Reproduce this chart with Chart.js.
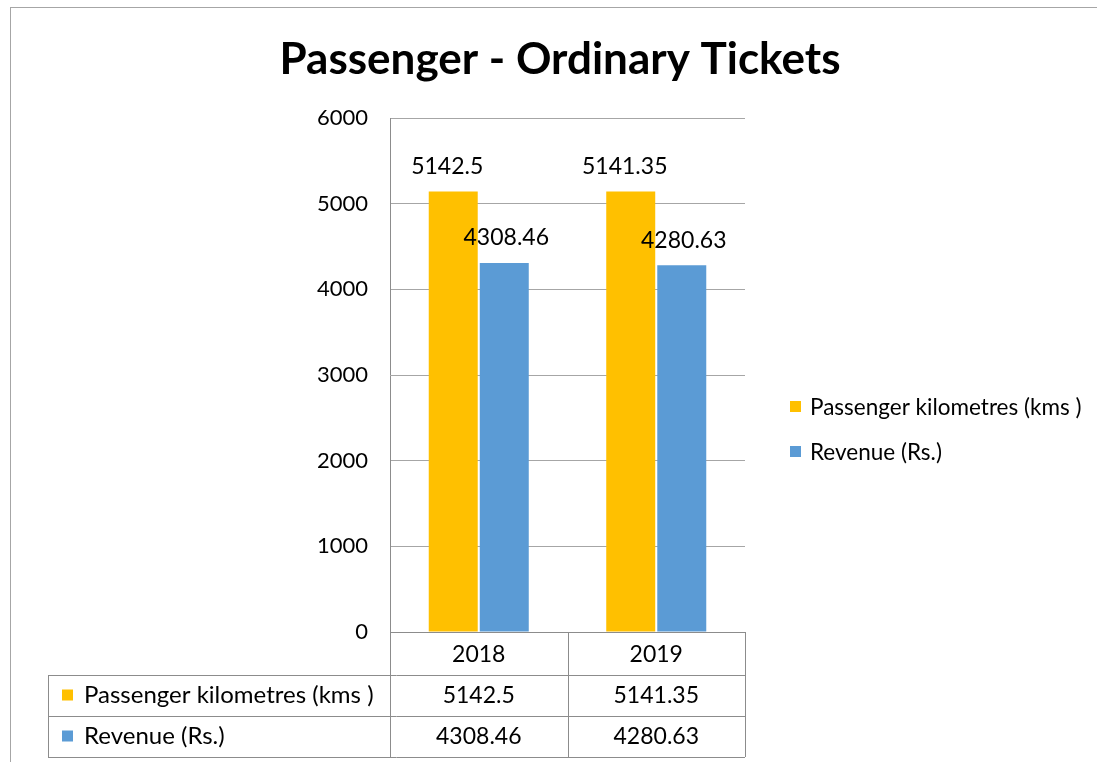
<!DOCTYPE html>
<html><head><meta charset="utf-8">
<script src="https://cdn.jsdelivr.net/npm/chart.js@4.4.1/dist/chart.umd.min.js"></script>
<style>html,body{margin:0;padding:0;background:#fff;}#wrap{width:1097px;height:762px;}</style>
</head><body><div id="wrap"><canvas id="c" width="1097" height="762"></canvas></div>
<script>
const chartTitle = "Passenger - Ordinary Tickets";
const categories = ["2018", "2019"];
const seriesNames = ["Passenger kilometres (kms )", "Revenue (Rs.)"];
const passengerKms = [5142.5, 5141.35];
const revenue = [4308.46, 4280.63];
const valueLabels = [["5142.5", "5141.35"], ["4308.46", "4280.63"]];
const yTicks = [0, 1000, 2000, 3000, 4000, 5000, 6000];
const colors = ["#FFC000", "#5B9BD5"];
const FONT = "Lato, 'Open Sans', sans-serif";

const tablePlugin = {
  id: 'extras',
  afterDraw(chart) {
    const ctx = chart.ctx;
    const xs = chart.scales.x;
    const area = chart.chartArea;
    ctx.save();
    // outer border
    ctx.strokeStyle = '#a6a6a6'; ctx.lineWidth = 1;
    ctx.strokeRect(10.5, 7.5, 1300, 1000);
    // title
    ctx.fillStyle = '#000';
    ctx.font = "bold 44px " + FONT;
    ctx.textAlign = 'center'; ctx.textBaseline = 'middle';
    ctx.fillText(chartTitle, 560, 60);
    // data labels
    ctx.font = "23px " + FONT;
    chart.data.datasets.forEach((ds, di) => {
      const meta = chart.getDatasetMeta(di);
      meta.data.forEach((bar, i) => {
        ctx.fillText(valueLabels[di][i], bar.x - (di === 0 ? 6 : -2), bar.y - 25);
      });
    });
    // data table
    const L = area.left, R = area.right, T = area.bottom;
    const step = xs.getPixelForValue(1) - xs.getPixelForValue(0);
    const cols = [L, L + step, R];
    const rows = [T, 675, 716, 757];
    ctx.strokeStyle = '#8c8c8c';
    ctx.beginPath();
    ctx.moveTo(L, T + 0.5); ctx.lineTo(R, T + 0.5);
    for (let r = 1; r < rows.length; r++) { ctx.moveTo(48, rows[r] + 0.5); ctx.lineTo(R, rows[r] + 0.5); }
    cols.forEach(x => { ctx.moveTo(Math.round(x) + 0.5, T); ctx.lineTo(Math.round(x) + 0.5, rows[3]); });
    ctx.moveTo(48.5, rows[1]); ctx.lineTo(48.5, rows[3]);
    ctx.stroke();
    ctx.fillStyle = '#000';
    ctx.font = "23px " + FONT;
    categories.forEach((c, i) => ctx.fillText(c, xs.getPixelForValue(i), 655));
    const vals = [passengerKms, revenue];
    for (let s = 0; s < 2; s++) {
      const cy = (rows[s + 1] + rows[s + 2]) / 2;
      ctx.fillStyle = colors[s];
      ctx.fillRect(62, cy - 6, 11, 11);
      ctx.fillStyle = '#000';
      ctx.textAlign = 'left';
      ctx.font = "24px " + FONT;
      ctx.fillText(seriesNames[s], 84, cy);
      ctx.textAlign = 'center';
      ctx.font = "23px " + FONT;
      vals[s].forEach((v, i) => ctx.fillText(valueLabels[s][i], xs.getPixelForValue(i), cy));
    }
    // legend
    const ly = [408, 453];
    ctx.font = "22.5px " + FONT;
    for (let s = 0; s < 2; s++) {
      ctx.fillStyle = colors[s];
      ctx.fillRect(790, ly[s] - 7, 11, 11);
      ctx.fillStyle = '#000';
      ctx.textAlign = 'left';
      ctx.fillText(seriesNames[s], 810, ly[s]);
    }
    ctx.restore();
  }
};

new Chart(document.getElementById('c'), {
  type: 'bar',
  data: {
    labels: categories,
    datasets: [
      { label: seriesNames[0], data: passengerKms, backgroundColor: colors[0] },
      { label: seriesNames[1], data: revenue, backgroundColor: colors[1] }
    ]
  },
  options: {
    responsive: false,
    animation: false,
    devicePixelRatio: 1,
    layout: { padding: { top: 118, right: 352, bottom: 0, left: 10 } },
    datasets: { bar: { categoryPercentage: 0.575, barPercentage: 0.96 } },
    plugins: { legend: { display: false }, title: { display: false }, tooltip: { enabled: false } },
    scales: {
      x: {
        grid: { display: false },
        border: { display: false },
        ticks: { display: false },
        afterFit(s) { s.height = 130; }
      },
      y: {
        min: 0, max: 6000,
        afterBuildTicks(s) { s.ticks = yTicks.map(v => ({ value: v })); },
        grid: { color: '#a6a6a6', drawTicks: false },
        border: { color: '#8c8c8c' },
        ticks: { color: '#000', font: { family: FONT, size: 22 }, padding: 22, callback: v => String(v) },
        afterFit(s) { s.width = 380; }
      }
    }
  },
  plugins: [tablePlugin]
});
</script></body></html>
